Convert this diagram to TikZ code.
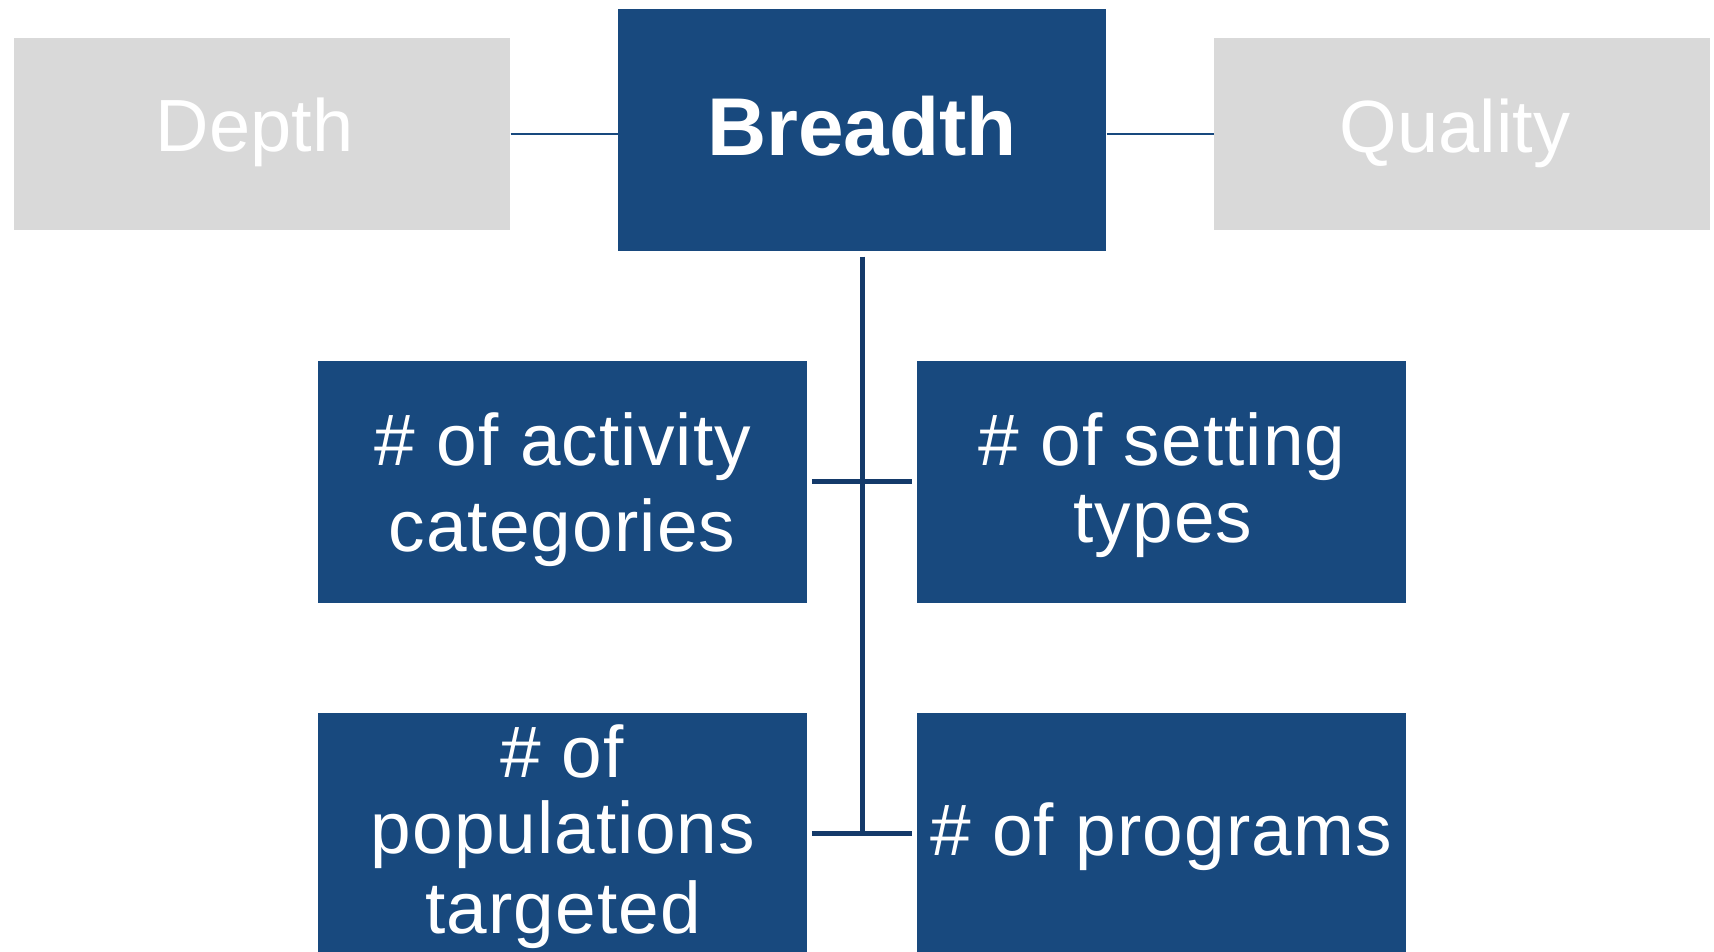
\documentclass[tikz,border=0pt]{standalone}
\usepackage{fontspec}
\setmainfont{Liberation Sans}
\newfontfamily\spacedfont[LetterSpace=1.5]{Liberation Sans}
\definecolor{boxblue}{RGB}{24,73,126}
\definecolor{boxgrey}{RGB}{217,217,217}
\definecolor{linenavy}{RGB}{20,58,106}
\begin{document}
\begin{tikzpicture}[x=1pt,y=-1pt,
  bluebox/.style={fill=boxblue, draw=none, inner sep=0pt, anchor=north west,
    minimum width=489pt, minimum height=242pt},
  greybox/.style={fill=boxgrey, draw=none, inner sep=0pt, anchor=north west,
    minimum width=496pt, minimum height=191.5pt},
  thinline/.style={draw=boxblue, line width=2.4pt},
  conn/.style={draw=linenavy, line width=5pt},
  toptxt/.style={text=white, inner sep=0pt, anchor=base, font=\fontsize{74}{80}\selectfont},
  maintxt/.style={text=white, inner sep=0pt, anchor=base, font=\fontsize{82}{90}\selectfont\bfseries},
  subtxt/.style={text=white, inner sep=0pt, anchor=base, font=\spacedfont\fontsize{73}{80}\selectfont}]
\useasboundingbox (0,0) rectangle (1714,951);
\fill[white] (0,0) rectangle (1714,951);

% boxes
\node[greybox] (dep) at (14.2,38.2) {};
\node[bluebox, minimum width=488.6pt, minimum height=241.6pt] (br) at (617.6,8.7) {};
\node[greybox] (qua) at (1213.6,38.2) {};
\node[bluebox] (act) at (317.5,360.5) {};
\node[bluebox] (set) at (916.8,360.5) {};
\node[bluebox] (pop) at (317.5,712.3) {};
\node[bluebox] (prg) at (916.8,712.3) {};

% connectors
\draw[thinline] (dep.east) -- (dep.east -| br.west);
\draw[thinline] (qua.west -| br.east) -- (qua.west);
\draw[conn] ([yshift=-6pt]br.south) -- (br.south |- pop.east);
\draw[conn] ([xshift=5pt]act.east) -- ([xshift=-5pt]set.west);
\draw[conn] ([xshift=5pt]pop.east) -- ([xshift=-5pt]prg.west);

% texts
\node[toptxt] (tdep) at (254.5,151.7) {Depth};
\node[maintxt] (tbr) at (862,155.7) {Breadth};
\node[toptxt] (tqua) at (1455,152) {Quality};

\node[subtxt] (ta1) at (563,465) {\# of activity};
\node[subtxt] (ta2) at (562,551) {categories};
\node[subtxt] (ts1) at (1162,465) {\# of setting};
\node[subtxt] (ts2) at (1163,542) {types};
\node[subtxt] (tp1) at (562,777.3) {\# of};
\node[subtxt] (tp2) at (563,853.3) {populations};
\node[subtxt] (tp3) at (563,933.3) {targeted};
\node[subtxt] (tg1) at (1161,855) {\# of programs};
\end{tikzpicture}
\end{document}
